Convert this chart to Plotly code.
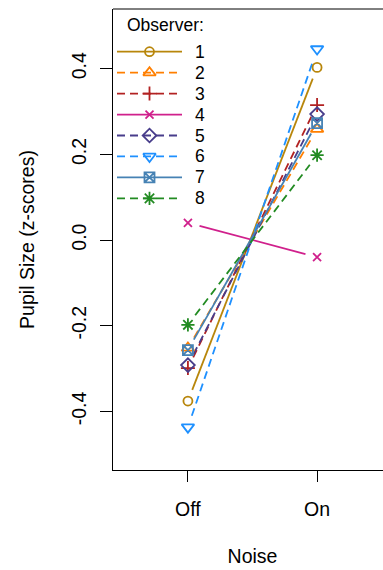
import math
import plotly.graph_objects as go

# ---- data ----
conditions = ["Off", "On"]
observers = ["1", "2", "3", "4", "5", "6", "7", "8"]
obs1 = [-0.376, 0.403]
obs2 = [-0.252, 0.259]
obs3 = [-0.299, 0.315]
obs4 = [0.040, -0.040]
obs5 = [-0.292, 0.294]
obs6 = [-0.437, 0.446]
obs7 = [-0.257, 0.273]
obs8 = [-0.198, 0.198]
series = [obs1, obs2, obs3, obs4, obs5, obs6, obs7, obs8]
y_ticks = [-0.4, -0.2, 0.0, 0.2, 0.4]
y_tick_labels = ["-0.4", "-0.2", "0.0", "0.2", "0.4"]

# ---- styles ----
colors = ["#B8860B", "#FF7F00", "#B22222", "#D0208C", "#483D8B", "#1E90FF", "#4682B4", "#228B22"]
dashes = ["solid", "8px,5px", "8px,5px", "solid", "8px,5px", "8px,5px", "solid", "8px,5px"]
symbols = ["circle-open", "triangle-up-open", "cross-thin-open", "x-thin-open",
           "diamond-open", "triangle-down-open", "square-x-open", "asterisk-open"]
sizes = [9, 11, 10, 8, 10.5, 11, 10, 11]

FONT = "Liberation Sans, Arial, sans-serif"
# the plot box runs past the right edge of the 383px window, as in the original
W_FIG, H_FIG = 392, 570
ML, MR, MT, MB = 113, 0, 9, 100
XR = [0.42, 2.58]
YR = [-0.537, 0.5394]
xpos = [1, 2]

pw = W_FIG - ML - MR
ph = H_FIG - MT - MB
sx = pw / (XR[1] - XR[0])
sy = ph / (YR[1] - YR[0])
GAP = 12.0


def px_to_x(px):
    return XR[0] + (px - ML) / sx


def px_to_y(py):
    return YR[1] - (py - MT) / sy


def shorten(xa, ya, xb, yb, gap):
    dx = (xb - xa) * sx
    dy = (yb - ya) * sy
    L = math.hypot(dx, dy)
    t = gap / L
    return ([xa + (xb - xa) * t, xb - (xb - xa) * t],
            [ya + (yb - ya) * t, yb - (yb - ya) * t])


fig = go.Figure()
LW = 1.8
for i, s in enumerate(series):
    lx, ly = shorten(xpos[0], s[0], xpos[1], s[1], GAP)
    fig.add_trace(go.Scatter(x=lx, y=ly, mode="lines", showlegend=False,
                             line=dict(color=colors[i], width=LW, dash=dashes[i]),
                             hoverinfo="skip"))
for i, s in enumerate(series):
    fig.add_trace(go.Scatter(x=xpos, y=s, mode="markers", showlegend=False,
                             name=observers[i],
                             marker=dict(symbol=symbols[i], size=sizes[i], color=colors[i],
                                         line=dict(color=colors[i], width=LW))))

# ---- manual legend (pixel positions converted to axis coordinates) ----
LEG_X0, LEG_X1, LEG_TX = 117, 182, 200
ROW0, ROWH = 51.7, 20.95
annotations = [dict(x=px_to_x(125), y=px_to_y(25), xref="x", yref="y", text="Observer:",
                    showarrow=False, xanchor="left", yanchor="middle",
                    font=dict(family=FONT, size=17.5, color="black"))]
for i, name in enumerate(observers):
    yy = px_to_y(ROW0 + i * ROWH)
    fig.add_trace(go.Scatter(x=[px_to_x(LEG_X0), px_to_x(LEG_X1)], y=[yy, yy], mode="lines",
                             showlegend=False, hoverinfo="skip",
                             line=dict(color=colors[i], width=LW, dash=dashes[i])))
    fig.add_trace(go.Scatter(x=[px_to_x((LEG_X0 + LEG_X1) / 2)], y=[yy], mode="markers",
                             showlegend=False, hoverinfo="skip",
                             marker=dict(symbol=symbols[i], size=sizes[i], color=colors[i],
                                         line=dict(color=colors[i], width=LW))))
    annotations.append(dict(x=px_to_x(LEG_TX), y=yy, xref="x", yref="y", text=name, showarrow=False,
                            xanchor="center", yanchor="middle",
                            font=dict(family=FONT, size=17.5, color="black")))

fig.update_layout(
    width=W_FIG, height=H_FIG,
    margin=dict(l=ML, r=MR, t=MT, b=MB, autoexpand=False),
    paper_bgcolor="white", plot_bgcolor="white",
    font=dict(family=FONT, size=19.5, color="black"),
    xaxis=dict(range=XR, tickvals=xpos, ticktext=conditions, showgrid=False, zeroline=False,
               showline=True, linecolor="black", linewidth=1, ticks="outside", ticklen=11,
               tickcolor="black", tickwidth=1, ticklabelstandoff=11, automargin=False,
               title=dict(text="Noise", standoff=29, font=dict(size=19.5))),
    yaxis=dict(range=YR, tickvals=y_ticks, ticktext=y_tick_labels, tickangle=-90,
               showgrid=False, zeroline=False, showline=True, linecolor="black", linewidth=1,
               ticks="outside", ticklen=12.5, tickcolor="black", tickwidth=1, ticklabelstandoff=6,
               automargin=False,
               title=dict(text="Pupil Size (z-scores)", standoff=27, font=dict(size=19.5))),
    shapes=[dict(type="line", xref="paper", yref="paper", x0=0, x1=1, y0=1, y1=1,
                 line=dict(color="black", width=1))],
    annotations=annotations,
    showlegend=False,
)

fig.write_html(
    "out.html",
    config={"displayModeBar": False, "staticPlot": True},
    post_script=("document.documentElement.style.margin='0';"
                 "document.documentElement.style.overflow='hidden';"
                 "document.body.style.margin='0';document.body.style.padding='0';"
                 "document.body.style.overflow='hidden';"),
)
